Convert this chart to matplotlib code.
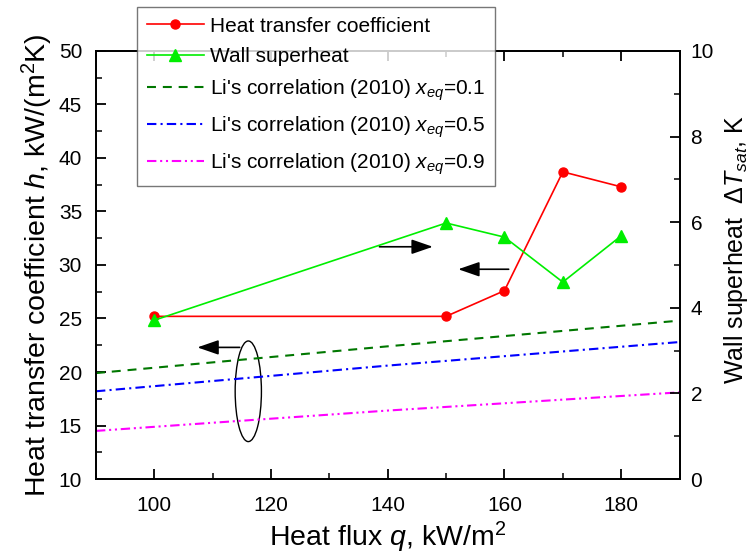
import matplotlib
matplotlib.use("Agg")
import matplotlib.pyplot as plt
from matplotlib.patches import Ellipse
from matplotlib.ticker import MultipleLocator

plt.rcParams['font.family'] = ['Liberation Sans', 'DejaVu Sans']
plt.rcParams['mathtext.fontset'] = 'custom'
plt.rcParams['mathtext.rm'] = 'Liberation Sans'
plt.rcParams['mathtext.it'] = 'Liberation Sans:italic'

# Data
q = [100, 150, 160, 170, 180]
h = [25.2, 25.2, 27.6, 38.7, 37.3]
dT = [3.71, 5.98, 5.65, 4.60, 5.68]
q_corr = [90, 140, 190]
li_01 = [19.9, 22.4, 24.8]
li_05 = [18.2, 20.6, 22.8]
li_09 = [14.5, 16.4, 18.1]

fig = plt.figure(figsize=(7.5, 5.59), dpi=100)
ax = fig.add_axes([0.128, 0.143, 0.778, 0.766])
ax2 = ax.twinx()

l1, = ax.plot(q, h, color='red', marker='o', markersize=6.5, lw=1.2,
              label='Heat transfer coefficient')
l2, = ax2.plot(q, dT, color='#00ee00', marker='^', markersize=8, lw=1.2,
               label='Wall superheat')
l3, = ax.plot(q_corr, li_01, color='#007700', ls=(0, (4.3, 3.3)), lw=1.5,
              label="Li's correlation (2010) $x_{eq}$=0.1")
l4, = ax.plot(q_corr, li_05, color='blue', ls=(0, (4.5, 2, 1, 2)), lw=1.5,
              label="Li's correlation (2010) $x_{eq}$=0.5")
l5, = ax.plot(q_corr, li_09, color='magenta', ls=(0, (4.5, 1.8, 1, 1.8, 1, 1.8)), lw=1.5,
              label="Li's correlation (2010) $x_{eq}$=0.9")

ax.set_xlim(90, 190)
ax.set_ylim(10, 50)
ax2.set_ylim(0, 10)
ax.xaxis.set_major_locator(MultipleLocator(20))
ax.xaxis.set_minor_locator(MultipleLocator(10))
ax.yaxis.set_major_locator(MultipleLocator(5))
ax.yaxis.set_minor_locator(MultipleLocator(2.5))
ax2.yaxis.set_major_locator(MultipleLocator(2))
ax2.yaxis.set_minor_locator(MultipleLocator(1))

ax.tick_params(axis='both', which='both', direction='in', labelsize=15, top=True)
ax.tick_params(axis='y', which='both', right=False, pad=10)
ax.tick_params(axis='x', which='both', pad=12)
ax.tick_params(which='major', length=7, width=1.3)
ax.tick_params(which='minor', length=4, width=1.1)
ax2.tick_params(axis='y', which='both', direction='in', labelsize=15, pad=8)
ax2.tick_params(which='major', length=7, width=1.3)
ax2.tick_params(which='minor', length=4, width=1.1)
for a in (ax, ax2):
    for s in a.spines.values():
        s.set_linewidth(1.3)

ax.set_xlabel(r'Heat flux $q$, kW/m$^2$', fontsize=20.5, labelpad=4)
ax.set_ylabel(r'Heat transfer coefficient $h$, kW/(m$^2$K)', fontsize=20.5, labelpad=3)
ax2.set_ylabel(r'Wall superheat  $\mathit{\Delta T_{sat}}$, K', fontsize=18, labelpad=6)
ax2.yaxis.label.set_y(0.535)

# annotations
arrow_kw = dict(arrowstyle='-|>,head_length=1.3,head_width=0.45', color='black', lw=1.2)
ax.annotate('', xy=(148.2, 31.7), xytext=(138.1, 31.7), arrowprops=arrow_kw)
ax.annotate('', xy=(151.6, 29.6), xytext=(161.2, 29.6), arrowprops=arrow_kw)
ax.annotate('', xy=(106.9, 22.3), xytext=(115.1, 22.3), arrowprops=arrow_kw)
ax.add_patch(Ellipse((116.1, 18.2), 4.5, 9.4, fill=False, edgecolor='black', lw=1.0))

leg = fig.legend(handles=[l1, l2, l3, l4, l5], loc='upper left',
                 bbox_to_anchor=(0.183, 0.987), fontsize=15, frameon=True,
                 fancybox=False, edgecolor='#555555', handlelength=2.74,
                 handletextpad=0.3, labelspacing=0.55, borderpad=0.45,
                 borderaxespad=0)
leg.get_frame().set_linewidth(1.0)

fig.savefig('out.png', dpi=100)
